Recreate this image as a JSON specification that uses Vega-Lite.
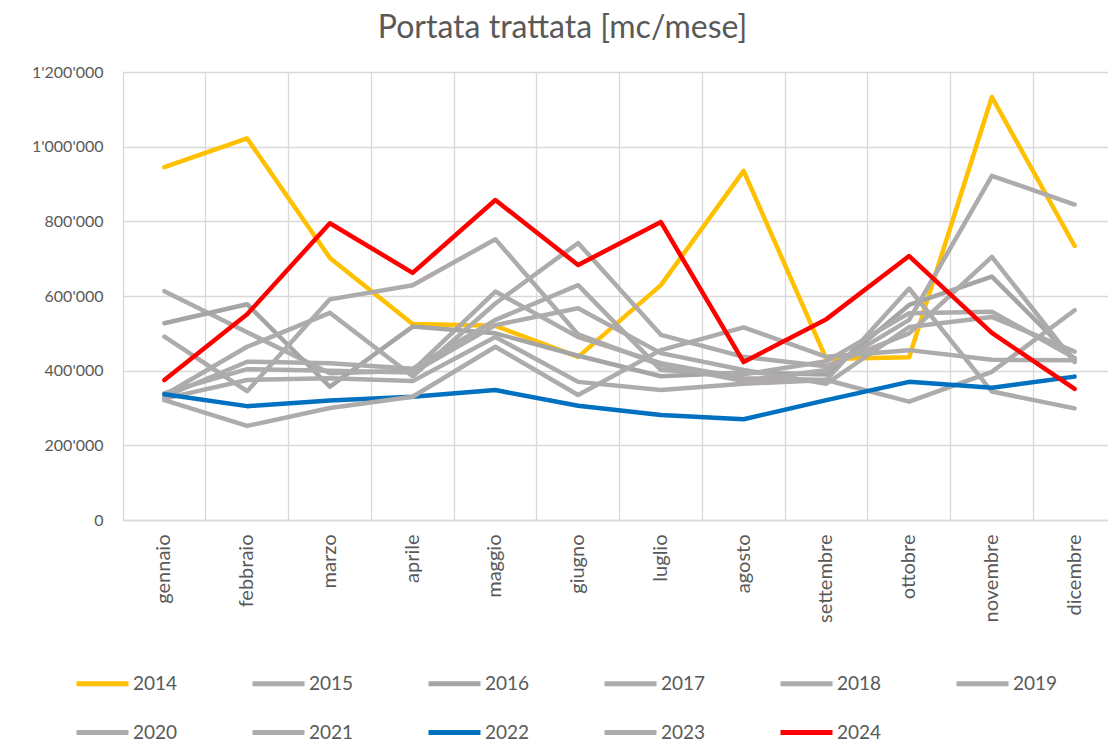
{
  "$schema": "https://vega.github.io/schema/vega-lite/v6.json",
  "width": 985,
  "height": 448,
  "autosize": {"type": "none"},
  "padding": {"left": 123, "top": 72, "right": 0, "bottom": 224},
  "title": {"text": "Portata trattata [mc/mese]", "font": "Lato", "fontSize": 32, "fontWeight": "normal", "color": "#595959", "anchor": "middle", "frame": "group", "dx": -53, "baseline": "alphabetic", "offset": -6},
  "config": {
    "locale": {"number": {"decimal": ".", "thousands": "'", "grouping": [3], "currency": ["", ""]}},
    "view": {"stroke": null},
    "font": "Lato"
  },
  "data": {"values": [
    {"anno": "2014", "mese": "gennaio", "valore": 945000},
    {"anno": "2014", "mese": "febbraio", "valore": 1022000},
    {"anno": "2014", "mese": "marzo", "valore": 702000},
    {"anno": "2014", "mese": "aprile", "valore": 525000},
    {"anno": "2014", "mese": "maggio", "valore": 520000},
    {"anno": "2014", "mese": "giugno", "valore": 437000},
    {"anno": "2014", "mese": "luglio", "valore": 629000},
    {"anno": "2014", "mese": "agosto", "valore": 935000},
    {"anno": "2014", "mese": "settembre", "valore": 431000},
    {"anno": "2014", "mese": "ottobre", "valore": 436000},
    {"anno": "2014", "mese": "novembre", "valore": 1133000},
    {"anno": "2014", "mese": "dicembre", "valore": 734000},
    {"anno": "2015", "mese": "gennaio", "valore": 613000},
    {"anno": "2015", "mese": "febbraio", "valore": 503000},
    {"anno": "2015", "mese": "marzo", "valore": 393000},
    {"anno": "2015", "mese": "aprile", "valore": 400000},
    {"anno": "2015", "mese": "maggio", "valore": 612000},
    {"anno": "2015", "mese": "giugno", "valore": 490000},
    {"anno": "2015", "mese": "luglio", "valore": 420000},
    {"anno": "2015", "mese": "agosto", "valore": 380000},
    {"anno": "2015", "mese": "settembre", "valore": 375000},
    {"anno": "2015", "mese": "ottobre", "valore": 620000},
    {"anno": "2015", "mese": "novembre", "valore": 344000},
    {"anno": "2015", "mese": "dicembre", "valore": 299000},
    {"anno": "2016", "mese": "gennaio", "valore": 527000},
    {"anno": "2016", "mese": "febbraio", "valore": 578000},
    {"anno": "2016", "mese": "marzo", "valore": 357000},
    {"anno": "2016", "mese": "aprile", "valore": 518000},
    {"anno": "2016", "mese": "maggio", "valore": 500000},
    {"anno": "2016", "mese": "giugno", "valore": 440000},
    {"anno": "2016", "mese": "luglio", "valore": 385000},
    {"anno": "2016", "mese": "agosto", "valore": 395000},
    {"anno": "2016", "mese": "settembre", "valore": 390000},
    {"anno": "2016", "mese": "ottobre", "valore": 576000},
    {"anno": "2016", "mese": "novembre", "valore": 652000},
    {"anno": "2016", "mese": "dicembre", "valore": 430000},
    {"anno": "2017", "mese": "gennaio", "valore": 491000},
    {"anno": "2017", "mese": "febbraio", "valore": 345000},
    {"anno": "2017", "mese": "marzo", "valore": 591000},
    {"anno": "2017", "mese": "aprile", "valore": 629000},
    {"anno": "2017", "mese": "maggio", "valore": 752000},
    {"anno": "2017", "mese": "giugno", "valore": 497000},
    {"anno": "2017", "mese": "luglio", "valore": 415000},
    {"anno": "2017", "mese": "agosto", "valore": 372000},
    {"anno": "2017", "mese": "settembre", "valore": 402000},
    {"anno": "2017", "mese": "ottobre", "valore": 536000},
    {"anno": "2017", "mese": "novembre", "valore": 922000},
    {"anno": "2017", "mese": "dicembre", "valore": 845000},
    {"anno": "2018", "mese": "gennaio", "valore": 335000},
    {"anno": "2018", "mese": "febbraio", "valore": 464000},
    {"anno": "2018", "mese": "marzo", "valore": 555000},
    {"anno": "2018", "mese": "aprile", "valore": 385000},
    {"anno": "2018", "mese": "maggio", "valore": 580000},
    {"anno": "2018", "mese": "giugno", "valore": 742000},
    {"anno": "2018", "mese": "luglio", "valore": 496000},
    {"anno": "2018", "mese": "agosto", "valore": 437000},
    {"anno": "2018", "mese": "settembre", "valore": 412000},
    {"anno": "2018", "mese": "ottobre", "valore": 500000},
    {"anno": "2018", "mese": "novembre", "valore": 705000},
    {"anno": "2018", "mese": "dicembre", "valore": 423000},
    {"anno": "2019", "mese": "gennaio", "valore": 330000},
    {"anno": "2019", "mese": "febbraio", "valore": 424000},
    {"anno": "2019", "mese": "marzo", "valore": 420000},
    {"anno": "2019", "mese": "aprile", "valore": 405000},
    {"anno": "2019", "mese": "maggio", "valore": 536000},
    {"anno": "2019", "mese": "giugno", "valore": 629000},
    {"anno": "2019", "mese": "luglio", "valore": 402000},
    {"anno": "2019", "mese": "agosto", "valore": 390000},
    {"anno": "2019", "mese": "settembre", "valore": 425000},
    {"anno": "2019", "mese": "ottobre", "valore": 554000},
    {"anno": "2019", "mese": "novembre", "valore": 558000},
    {"anno": "2019", "mese": "dicembre", "valore": 434000},
    {"anno": "2020", "mese": "gennaio", "valore": 340000},
    {"anno": "2020", "mese": "febbraio", "valore": 404000},
    {"anno": "2020", "mese": "marzo", "valore": 400000},
    {"anno": "2020", "mese": "aprile", "valore": 395000},
    {"anno": "2020", "mese": "maggio", "valore": 522000},
    {"anno": "2020", "mese": "giugno", "valore": 567000},
    {"anno": "2020", "mese": "luglio", "valore": 447000},
    {"anno": "2020", "mese": "agosto", "valore": 402000},
    {"anno": "2020", "mese": "settembre", "valore": 365000},
    {"anno": "2020", "mese": "ottobre", "valore": 517000},
    {"anno": "2020", "mese": "novembre", "valore": 544000},
    {"anno": "2020", "mese": "dicembre", "valore": 451000},
    {"anno": "2021", "mese": "gennaio", "valore": 325000},
    {"anno": "2021", "mese": "febbraio", "valore": 375000},
    {"anno": "2021", "mese": "marzo", "valore": 380000},
    {"anno": "2021", "mese": "aprile", "valore": 372000},
    {"anno": "2021", "mese": "maggio", "valore": 490000},
    {"anno": "2021", "mese": "giugno", "valore": 370000},
    {"anno": "2021", "mese": "luglio", "valore": 348000},
    {"anno": "2021", "mese": "agosto", "valore": 365000},
    {"anno": "2021", "mese": "settembre", "valore": 375000},
    {"anno": "2021", "mese": "ottobre", "valore": 317000},
    {"anno": "2021", "mese": "novembre", "valore": 397000},
    {"anno": "2021", "mese": "dicembre", "valore": 562000},
    {"anno": "2022", "mese": "gennaio", "valore": 337000},
    {"anno": "2022", "mese": "febbraio", "valore": 305000},
    {"anno": "2022", "mese": "marzo", "valore": 320000},
    {"anno": "2022", "mese": "aprile", "valore": 330000},
    {"anno": "2022", "mese": "maggio", "valore": 348000},
    {"anno": "2022", "mese": "giugno", "valore": 306000},
    {"anno": "2022", "mese": "luglio", "valore": 281000},
    {"anno": "2022", "mese": "agosto", "valore": 270000},
    {"anno": "2022", "mese": "settembre", "valore": 321000},
    {"anno": "2022", "mese": "ottobre", "valore": 370000},
    {"anno": "2022", "mese": "novembre", "valore": 354000},
    {"anno": "2022", "mese": "dicembre", "valore": 384000},
    {"anno": "2023", "mese": "gennaio", "valore": 321000},
    {"anno": "2023", "mese": "febbraio", "valore": 252000},
    {"anno": "2023", "mese": "marzo", "valore": 300000},
    {"anno": "2023", "mese": "aprile", "valore": 330000},
    {"anno": "2023", "mese": "maggio", "valore": 464000},
    {"anno": "2023", "mese": "giugno", "valore": 335000},
    {"anno": "2023", "mese": "luglio", "valore": 455000},
    {"anno": "2023", "mese": "agosto", "valore": 516000},
    {"anno": "2023", "mese": "settembre", "valore": 437000},
    {"anno": "2023", "mese": "ottobre", "valore": 455000},
    {"anno": "2023", "mese": "novembre", "valore": 429000},
    {"anno": "2023", "mese": "dicembre", "valore": 428000},
    {"anno": "2024", "mese": "gennaio", "valore": 375000},
    {"anno": "2024", "mese": "febbraio", "valore": 551000},
    {"anno": "2024", "mese": "marzo", "valore": 795000},
    {"anno": "2024", "mese": "aprile", "valore": 662000},
    {"anno": "2024", "mese": "maggio", "valore": 857000},
    {"anno": "2024", "mese": "giugno", "valore": 683000},
    {"anno": "2024", "mese": "luglio", "valore": 798000},
    {"anno": "2024", "mese": "agosto", "valore": 423000},
    {"anno": "2024", "mese": "settembre", "valore": 538000},
    {"anno": "2024", "mese": "ottobre", "valore": 707000},
    {"anno": "2024", "mese": "novembre", "valore": 501000},
    {"anno": "2024", "mese": "dicembre", "valore": 351000}
  ]},
  "layer": [
    {
      "mark": {"type": "line", "opacity": 0},
      "encoding": {
        "x": {"field": "mese", "type": "nominal",
              "sort": ["gennaio","febbraio","marzo","aprile","maggio","giugno","luglio","agosto","settembre","ottobre","novembre","dicembre"],
              "scale": {"type": "band", "range": [0, 993], "paddingInner": 0, "paddingOuter": 0},
              "axis": {"orient": "top", "grid": true, "bandPosition": 0, "gridColor": "#D9D9D9", "gridWidth": 1.3, "labels": false, "ticks": false, "domain": false, "title": null}},
        "y": {"field": "valore", "type": "quantitative", "scale": {"domain": [0, 1200000]},
              "axis": {"values": [0, 200000, 400000, 600000, 800000, 1000000, 1200000], "format": ",d", "grid": true, "gridColor": "#D9D9D9", "gridWidth": 1.3, "domain": false, "ticks": false, "labelColor": "#595959", "labelFontSize": 16, "labelFont": "Lato", "labelPadding": 20, "title": null}}
      }
    },
    {
      "mark": {"type": "line", "strokeWidth": 4.5, "strokeCap": "round", "strokeJoin": "round"},
      "encoding": {
        "x": {"field": "mese", "type": "nominal",
              "sort": ["gennaio","febbraio","marzo","aprile","maggio","giugno","luglio","agosto","settembre","ottobre","novembre","dicembre"],
              "axis": {"orient": "bottom", "grid": false, "ticks": false, "domainColor": "#D9D9D9", "domainWidth": 1.3, "labelAngle": -90, "labelAlign": "right", "labelBaseline": "middle", "labelPadding": 14, "labelFontSize": 20, "labelColor": "#595959", "labelFont": "Lato", "title": null}},
        "y": {"field": "valore", "type": "quantitative",
              "axis": {"values": [0, 200000, 400000, 600000, 800000, 1000000, 1200000], "format": ",d", "grid": true, "gridColor": "#D9D9D9", "gridWidth": 1.3, "domain": false, "ticks": false, "labelColor": "#595959", "labelFontSize": 16, "labelFont": "Lato", "labelPadding": 20, "title": null}},
        "color": {"field": "anno", "type": "nominal",
                  "scale": {"domain": ["2014","2015","2016","2017","2018","2019","2020","2021","2022","2023","2024"],
                            "range": ["#FFC000","#AEABAB","#A5A5A5","#AEABAB","#AEABAB","#AEABAB","#AEABAB","#AEABAB","#0070C0","#AEABAB","#FF0000"]},
                  "legend": {"orient": "none", "legendX": -49, "legendY": 583, "direction": "horizontal", "columns": 6, "title": null,
                             "symbolType": "stroke", "symbolSize": 2704, "symbolStrokeWidth": 5, "labelFontSize": 19, "labelFont": "Lato", "labelColor": "#595959", "labelOffset": 2, "columnPadding": 64, "rowPadding": 10}}
      }
    }
  ],
  "resolve": {"axis": {"x": "independent"}}
}
